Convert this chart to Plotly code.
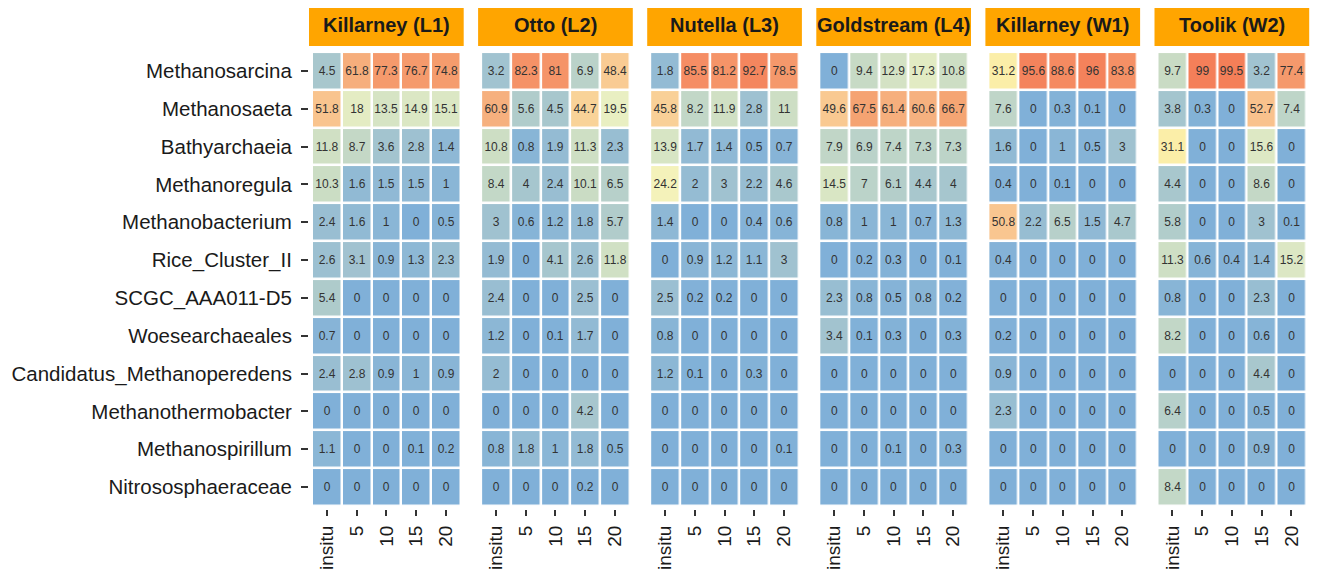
import plotly.graph_objects as go

taxa = ["Methanosarcina", "Methanosaeta", "Bathyarchaeia", "Methanoregula",
        "Methanobacterium", "Rice_Cluster_II", "SCGC_AAA011-D5", "Woesearchaeales",
        "Candidatus_Methanoperedens", "Methanothermobacter", "Methanospirillum",
        "Nitrososphaeraceae"]
times = ["insitu", "5", "10", "15", "20"]
sites = ["Killarney (L1)", "Otto (L2)", "Nutella (L3)", "Goldstream (L4)",
         "Killarney (W1)", "Toolik (W2)"]

killarney_L1 = [
    [4.5, 61.8, 77.3, 76.7, 74.8],
    [51.8, 18, 13.5, 14.9, 15.1],
    [11.8, 8.7, 3.6, 2.8, 1.4],
    [10.3, 1.6, 1.5, 1.5, 1],
    [2.4, 1.6, 1, 0, 0.5],
    [2.6, 3.1, 0.9, 1.3, 2.3],
    [5.4, 0, 0, 0, 0],
    [0.7, 0, 0, 0, 0],
    [2.4, 2.8, 0.9, 1, 0.9],
    [0, 0, 0, 0, 0],
    [1.1, 0, 0, 0.1, 0.2],
    [0, 0, 0, 0, 0],
]
otto_L2 = [
    [3.2, 82.3, 81, 6.9, 48.4],
    [60.9, 5.6, 4.5, 44.7, 19.5],
    [10.8, 0.8, 1.9, 11.3, 2.3],
    [8.4, 4, 2.4, 10.1, 6.5],
    [3, 0.6, 1.2, 1.8, 5.7],
    [1.9, 0, 4.1, 2.6, 11.8],
    [2.4, 0, 0, 2.5, 0],
    [1.2, 0, 0.1, 1.7, 0],
    [2, 0, 0, 0, 0],
    [0, 0, 0, 4.2, 0],
    [0.8, 1.8, 1, 1.8, 0.5],
    [0, 0, 0, 0.2, 0],
]
nutella_L3 = [
    [1.8, 85.5, 81.2, 92.7, 78.5],
    [45.8, 8.2, 11.9, 2.8, 11],
    [13.9, 1.7, 1.4, 0.5, 0.7],
    [24.2, 2, 3, 2.2, 4.6],
    [1.4, 0, 0, 0.4, 0.6],
    [0, 0.9, 1.2, 1.1, 3],
    [2.5, 0.2, 0.2, 0, 0],
    [0.8, 0, 0, 0, 0],
    [1.2, 0.1, 0, 0.3, 0],
    [0, 0, 0, 0, 0],
    [0, 0, 0, 0, 0.1],
    [0, 0, 0, 0, 0],
]
goldstream_L4 = [
    [0, 9.4, 12.9, 17.3, 10.8],
    [49.6, 67.5, 61.4, 60.6, 66.7],
    [7.9, 6.9, 7.4, 7.3, 7.3],
    [14.5, 7, 6.1, 4.4, 4],
    [0.8, 1, 1, 0.7, 1.3],
    [0, 0.2, 0.3, 0, 0.1],
    [2.3, 0.8, 0.5, 0.8, 0.2],
    [3.4, 0.1, 0.3, 0, 0.3],
    [0, 0, 0, 0, 0],
    [0, 0, 0, 0, 0],
    [0, 0, 0.1, 0, 0.3],
    [0, 0, 0, 0, 0],
]
killarney_W1 = [
    [31.2, 95.6, 88.6, 96, 83.8],
    [7.6, 0, 0.3, 0.1, 0],
    [1.6, 0, 1, 0.5, 3],
    [0.4, 0, 0.1, 0, 0],
    [50.8, 2.2, 6.5, 1.5, 4.7],
    [0.4, 0, 0, 0, 0],
    [0, 0, 0, 0, 0],
    [0.2, 0, 0, 0, 0],
    [0.9, 0, 0, 0, 0],
    [2.3, 0, 0, 0, 0],
    [0, 0, 0, 0, 0],
    [0, 0, 0, 0, 0],
]
toolik_W2 = [
    [9.7, 99, 99.5, 3.2, 77.4],
    [3.8, 0.3, 0, 52.7, 7.4],
    [31.1, 0, 0, 15.6, 0],
    [4.4, 0, 0, 8.6, 0],
    [5.8, 0, 0, 3, 0.1],
    [11.3, 0.6, 0.4, 1.4, 15.2],
    [0.8, 0, 0, 2.3, 0],
    [8.2, 0, 0, 0.6, 0],
    [0, 0, 0, 4.4, 0],
    [6.4, 0, 0, 0.5, 0],
    [0, 0, 0, 0.9, 0],
    [8.4, 0, 0, 0, 0],
]
site_values = [killarney_L1, otto_L2, nutella_L3, goldstream_L4, killarney_W1, toolik_W2]

colorscale = [
    [0.000, "#80b0d8"],
    [0.010, "#8ab6d6"],
    [0.030, "#a0c2d0"],
    [0.050, "#abc9cc"],
    [0.075, "#bfd5c8"],
    [0.100, "#cadcc4"],
    [0.150, "#dbe7c4"],
    [0.200, "#eaf0c2"],
    [0.250, "#f6f2b8"],
    [0.310, "#fbeea8"],
    [0.450, "#f9d298"],
    [0.520, "#f9c48e"],
    [0.610, "#f6b07e"],
    [0.670, "#f5a472"],
    [0.770, "#f59a6c"],
    [0.850, "#f58e64"],
    [1.000, "#f47e58"],
]

# the page body has an 8px margin; lay out in window pixels and subtract it
OFF = 8
WIN_W, WIN_H = 1318, 577
W, H = WIN_W - 2 * OFF, WIN_H - 2 * OFF
FONT = "Liberation Sans, Arial, Helvetica, sans-serif"

panel_left0 = 309
panel_w = 154.7
panel_gap = 14.4
panel_top, panel_bot = 49, 509
strip_top, strip_bot = 3, 46


def px_x(p):
    return min(1.0, max(0.0, (p - OFF) / W))


def px_y(p):
    return min(1.0, max(0.0, 1 - (p - OFF) / H))


fig = go.Figure()
for i, (site, vals) in enumerate(zip(sites, site_values)):
    xa = "x" if i == 0 else f"x{i+1}"
    ya = "y" if i == 0 else f"y{i+1}"
    text = [[f"{v:g}" for v in row] for row in vals]
    fig.add_trace(go.Heatmap(
        z=vals, x=list(range(len(times))), y=list(range(len(taxa))),
        text=text, texttemplate="%{text}",
        textfont=dict(size=12, color="#333333", family=FONT),
        colorscale=colorscale, zmin=0, zmax=100, showscale=False,
        xgap=2.5, ygap=2.5, xaxis=xa, yaxis=ya,
        hovertemplate=site + "<br>%{y}<br>%{x}: %{z}<extra></extra>",
    ))
    left = panel_left0 + i * (panel_w + panel_gap)
    x0 = px_x(left)
    x1 = px_x(left + panel_w)
    xkey = "xaxis" if i == 0 else f"xaxis{i+1}"
    ykey = "yaxis" if i == 0 else f"yaxis{i+1}"
    fig.layout[xkey] = dict(
        domain=[x0, x1], anchor=ya, range=[-0.6, 4.6], automargin=False,
        tickmode="array", tickvals=list(range(len(times))), ticktext=times,
        tickangle=-90, ticks="outside", ticklen=6, tickwidth=2, tickcolor="#333333",
        ticklabelstandoff=2,
        tickfont=dict(size=19, color="#1a1a1a", family=FONT),
        showgrid=False, zeroline=False, showline=False, fixedrange=True,
    )
    fig.layout[ykey] = dict(
        domain=[px_y(panel_bot), px_y(panel_top)], anchor=xa, automargin=False,
        range=[11.58, -0.58],
        tickmode="array", tickvals=list(range(len(taxa))),
        ticktext=taxa if i == 0 else [""] * len(taxa),
        showticklabels=(i == 0),
        ticks="outside" if i == 0 else "", ticklen=7, tickwidth=2, tickcolor="#333333",
        ticklabelstandoff=5,
        tickfont=dict(size=20.5, color="#1a1a1a", family=FONT),
        showgrid=False, zeroline=False, showline=False, fixedrange=True,
    )
    fig.add_shape(type="rect", xref="paper", yref="paper",
                  x0=x0, x1=x1, y0=px_y(strip_bot), y1=px_y(strip_top),
                  fillcolor="#FFA500", line=dict(width=0), layer="below")
    fig.add_annotation(xref="paper", yref="paper", x=(x0 + x1) / 2,
                       y=px_y((strip_top + strip_bot) / 2),
                       text=f"<b>{site}</b>", showarrow=False,
                       font=dict(size=20, color="#1a1a1a", family=FONT),
                       xanchor="center", yanchor="middle")

fig.update_layout(
    width=W, height=H, margin=dict(l=0, r=0, t=0, b=0, autoexpand=False),
    paper_bgcolor="white", plot_bgcolor="white", showlegend=False,
)
fig.write_html("out.html")
